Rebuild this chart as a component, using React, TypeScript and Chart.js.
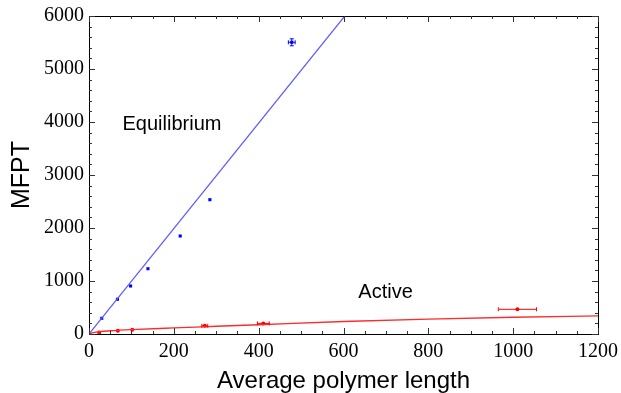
import React, { useEffect, useRef } from "react";
import { Chart, registerables } from "chart.js";

Chart.register(...registerables);

// Equilibrium data (blue)
const eqX = [30, 67, 98, 139, 215, 285, 478];
const eqY = [296, 655, 906, 1232, 1849, 2534, 5504];
const eqXErr = [0, 0, 0, 0, 0, 0, 8];
const eqYErr = [0, 0, 0, 0, 0, 0, 66];

// Active data (red)
const actX = [24, 68, 102, 273, 411, 1010];
const actY = [30, 60, 82, 155, 200, 466];
const actXErr = [0, 0, 0, 7, 14, 45];
const actYErr = [0, 0, 0, 0, 0, 0];

// Fit curves
const eqFitX = [0, 603];
const eqFitY = [0, 6000];
const actFitX = [0, 10, 25, 50, 100, 200, 300, 400, 600, 800, 1000, 1200];
const actFitY = [0, 25, 45, 60, 82, 115, 145, 175, 235, 280, 315, 342];

// Axis ticks
const xTicks = [0, 200, 400, 600, 800, 1000, 1200];
const yTicks = [0, 1000, 2000, 3000, 4000, 5000, 6000];
const xMinorStep = 50;
const yMinorStep = 200;

// Annotations
const labels = [
  { text: "Equilibrium", x: 79, y: 3960 },
  { text: "Active", x: 635, y: 787 },
];

const zip = (xs: number[], ys: number[]) => xs.map((x, i) => ({ x, y: ys[i] }));

const framePlugin = {
  id: "frameTicks",
  afterDatasetsDraw(chart: any) {
    const { ctx, chartArea: a, scales } = chart;
    const xs = scales.x;
    const ys = scales.y;
    ctx.save();
    // error bars
    const drawErr = (X: number[], Y: number[], XE: number[], YE: number[], color: string) => {
      ctx.strokeStyle = color;
      ctx.lineWidth = 1;
      X.forEach((x, i) => {
        const px = xs.getPixelForValue(x);
        const py = ys.getPixelForValue(Y[i]);
        if (XE[i] > 0) {
          const l = xs.getPixelForValue(x - XE[i]);
          const r = xs.getPixelForValue(x + XE[i]);
          ctx.beginPath();
          ctx.moveTo(l, py);
          ctx.lineTo(r, py);
          ctx.moveTo(l, py - 2);
          ctx.lineTo(l, py + 2);
          ctx.moveTo(r, py - 2);
          ctx.lineTo(r, py + 2);
          ctx.stroke();
        }
        if (YE[i] > 0) {
          const t = ys.getPixelForValue(Y[i] + YE[i]);
          const b = ys.getPixelForValue(Y[i] - YE[i]);
          ctx.beginPath();
          ctx.moveTo(px, t);
          ctx.lineTo(px, b);
          ctx.moveTo(px - 2, t);
          ctx.lineTo(px + 2, t);
          ctx.moveTo(px - 2, b);
          ctx.lineTo(px + 2, b);
          ctx.stroke();
        }
      });
    };
    drawErr(eqX, eqY, eqXErr, eqYErr, "#0000ff");
    drawErr(actX, actY, actXErr, actYErr, "#ff0000");

    // frame
    ctx.strokeStyle = "#000";
    ctx.lineWidth = 1;
    ctx.strokeRect(Math.round(a.left) + 0.5, Math.round(a.top) + 0.5, Math.round(a.right - a.left), Math.round(a.bottom - a.top));
    // ticks
    ctx.strokeStyle = "#333";
    ctx.beginPath();
    for (let v = xs.min; v <= xs.max + 1e-6; v += xMinorStep) {
      const major = xTicks.includes(v);
      const len = major ? 6 : 3;
      const px = Math.round(xs.getPixelForValue(v)) + 0.5;
      ctx.moveTo(px, a.bottom);
      ctx.lineTo(px, a.bottom - len);
      ctx.moveTo(px, a.top);
      ctx.lineTo(px, a.top + len);
    }
    for (let v = ys.min; v <= ys.max + 1e-6; v += yMinorStep) {
      const major = yTicks.includes(v);
      const len = major ? 6 : 3;
      const py = Math.round(ys.getPixelForValue(v)) + 0.5;
      ctx.moveTo(a.left, py);
      ctx.lineTo(a.left + len, py);
      ctx.moveTo(a.right, py);
      ctx.lineTo(a.right - len, py);
    }
    ctx.stroke();

    // text annotations
    ctx.fillStyle = "#000";
    ctx.font = '20px "Liberation Sans", Arial, sans-serif';
    ctx.textAlign = "left";
    ctx.textBaseline = "middle";
    labels.forEach((l) => {
      ctx.fillText(l.text, xs.getPixelForValue(l.x), ys.getPixelForValue(l.y));
    });
    ctx.restore();
  },
};

export default function App() {
  const ref = useRef<HTMLCanvasElement>(null);
  useEffect(() => {
    if (!ref.current) return;
    const chart = new Chart(ref.current, {
      type: "scatter",
      data: {
        datasets: [
          {
            data: zip(eqFitX, eqFitY),
            showLine: true,
            borderColor: "#5c5cff",
            borderWidth: 1.2,
            pointRadius: 0,
          },
          {
            data: zip(actFitX, actFitY),
            showLine: true,
            borderColor: "#ff2a2a",
            borderWidth: 1.4,
            pointRadius: 0,
            cubicInterpolationMode: "monotone",
          },
          {
            data: zip(eqX, eqY),
            pointStyle: "rect",
            pointRadius: 2.2,
            backgroundColor: "#0000ff",
            borderColor: "#0000ff",
            borderWidth: 0,
          },
          {
            data: zip(actX, actY),
            pointStyle: "circle",
            pointRadius: 2,
            backgroundColor: "#ff0000",
            borderColor: "#ff0000",
            borderWidth: 0,
          },
        ],
      } as any,
      options: {
        animation: false,
        responsive: false,
        devicePixelRatio: 1,
        layout: { padding: { top: 16, right: 23, left: 0, bottom: 0 } },
        plugins: { legend: { display: false }, tooltip: { enabled: false } },
        scales: {
          x: {
            type: "linear",
            min: 0,
            max: 1200,
            afterBuildTicks: (s: any) => {
              s.ticks = xTicks.map((v) => ({ value: v }));
            },
            afterFit: (s: any) => {
              s.height = 59;
              s.paddingRight = 0;
              s.paddingLeft = 0;
            },
            grid: { display: false, drawTicks: false },
            border: { display: false },
            ticks: {
              padding: 6,
              color: "#000",
              font: { family: '"Liberation Serif", "Times New Roman", serif', size: 20 },
              maxRotation: 0,
              callback: (v: any) => String(v),
            },
            title: {
              display: true,
              text: "Average polymer length",
              color: "#000",
              font: { family: '"Liberation Sans", Arial, sans-serif', size: 24, lineHeight: 1 },
              padding: { top: 0, bottom: 0 },
            },
          },
          y: {
            type: "linear",
            min: 0,
            max: 6000,
            afterBuildTicks: (s: any) => {
              s.ticks = yTicks.map((v) => ({ value: v }));
            },
            afterFit: (s: any) => {
              s.width = 89;
              s.paddingTop = 0;
              s.paddingBottom = 0;
            },
            grid: { display: false, drawTicks: false },
            border: { display: false },
            ticks: {
              padding: 5,
              color: "#000",
              font: { family: '"Liberation Serif", "Times New Roman", serif', size: 20 },
              callback: (v: any) => String(v),
            },
            title: {
              display: true,
              text: "MFPT",
              color: "#000",
              font: { family: '"Liberation Sans", Arial, sans-serif', size: 25, lineHeight: 1 },
              padding: { top: 10, bottom: 0 },
            },
          },
        },
      } as any,
      plugins: [framePlugin],
    });
    return () => chart.destroy();
  }, []);
  return (
    <div style={{ position: "fixed", left: 0, top: 0, width: 621, height: 393, background: "#fff" }}>
      <canvas ref={ref} width={621} height={393} />
    </div>
  );
}
